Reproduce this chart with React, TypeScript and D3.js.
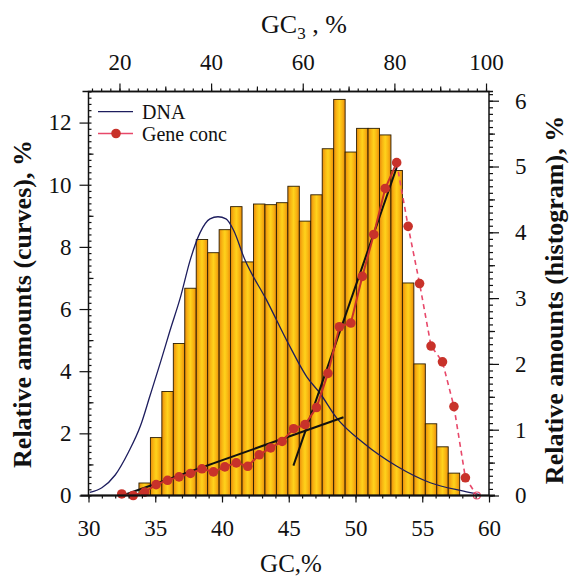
import * as d3 from 'd3';
import React, { useEffect, useRef } from 'react';

// GC3 bin centres (2.5 % bins) shared by histogram and gene concentration
const gc3Centers = [
  20.5, 23, 25.5, 28, 30.5, 33, 35.5, 38, 40.5, 43, 45.5, 48, 50.5, 53, 55.5, 58,
  60.5, 63, 65.5, 68, 70.5, 73, 75.5, 78, 80.5, 83, 85.5, 88, 90.5, 93, 95.5, 98,
];
const geneConc = [
  0.05, 0.0, 0.11, 0.35, 0.49, 0.6, 0.71, 0.86, 0.76, 0.92, 1.05, 0.94, 1.31, 1.53, 1.74, 2.15,
  2.28, 2.83, 3.93, 5.43, 5.55, 7.05, 8.4, 9.88, 10.71, 8.66, 6.82, 4.81, 4.3, 2.86, 0.57, 0.0,
];
// histogram bars start at the third bin centre (25.5)
const histCenters = gc3Centers.slice(2, 30);
const histValues = [
  0.19, 0.88, 1.58, 2.31, 3.15, 3.89, 3.69, 4.04, 4.39, 3.55, 4.43, 4.42, 4.45, 4.7,
  4.17, 4.57, 5.27, 6.02, 5.22, 5.58, 5.58, 5.48, 4.94, 3.23, 2.0, 1.09, 0.74, 0.34,
];
const peakIndex = 24;

// DNA curve (GC %, relative amount)
const dnaGC = [
  30.1, 31.0, 32.0, 33.0, 33.9, 34.6, 35.4, 36.1, 36.9, 37.6, 38.35, 39.1, 39.7, 40.3,
  40.85, 41.7, 43.35, 44.97, 46.35, 47.34, 48.6, 50.6, 53.1, 55.6, 58.1, 59.3,
];
const dnaValues = [
  0.1, 0.25, 0.66, 1.4, 2.25, 3.2, 4.3, 5.3, 6.4, 7.55, 8.45, 8.9, 8.97, 8.9,
  8.55, 7.6, 6.28, 4.89, 3.82, 3.29, 2.49, 1.69, 0.94, 0.41, 0.14, 0.03,
];

// fitted straight lines (GC %, value)
const fitLowGC = [32.55, 49.1];
const fitLowValues = [0, 2.52];
const fitHighGC = [45.35, 53.2];
const fitHighValues = [0.96, 10.7];

const gcTicks = [30, 35, 40, 45, 50, 55, 60];
const gc3Ticks = [20, 40, 60, 80, 100];
const curveTicks = [0, 2, 4, 6, 8, 10, 12];
const histTicks = [0, 1, 2, 3, 4, 5, 6];

const W = 569;
const H = 578;
const serif = '"Liberation Serif", "Times New Roman", serif';

function Chart() {
  const svgRef = useRef<SVGSVGElement>(null);

  useEffect(() => {
    const svg = d3.select(svgRef.current);
    svg.selectAll('*').remove();

    const x = d3.scaleLinear().domain([30, 60]).range([88.5, 489]);
    const x3 = d3.scaleLinear().domain([13.24, 100.65]).range([88.5, 489]);
    const yL = d3.scaleLinear().domain([0, 13]).range([495.5, 91.5]);
    const yR = d3.scaleLinear().domain([0, 6.14]).range([495.5, 91.5]);
    const [left, right] = x.range();
    const [bottom, top] = yL.range();

    const defs = svg.append('defs');
    const grad = defs
      .append('linearGradient')
      .attr('id', 'barGrad')
      .attr('x1', '0')
      .attr('x2', '1')
      .attr('y1', '0')
      .attr('y2', '0');
    [
      [0, '#e98a0c'],
      [0.25, '#f8b512'],
      [0.5, '#ffd21c'],
      [0.75, '#f8b512'],
      [1, '#e98a0c'],
    ].forEach(([o, c]) => grad.append('stop').attr('offset', o).attr('stop-color', c));

    // histogram
    svg
      .append('g')
      .selectAll('rect')
      .data(histValues)
      .join('rect')
      .attr('x', (d, i) => x3(histCenters[i] - 1.25))
      .attr('width', (d, i) => x3(histCenters[i] + 1.25) - x3(histCenters[i] - 1.25))
      .attr('y', d => yR(d))
      .attr('height', d => yR(0) - yR(d))
      .attr('fill', 'url(#barGrad)')
      .attr('stroke', '#2b1d00')
      .attr('stroke-width', 0.9);

    // DNA curve
    const dnaLine = d3
      .line<number>()
      .x((d, i) => x(dnaGC[i]))
      .y(d => yL(d))
      .curve(d3.curveMonotoneX);
    svg
      .append('path')
      .attr('d', dnaLine(dnaValues))
      .attr('fill', 'none')
      .attr('stroke', '#1d1d5e')
      .attr('stroke-width', 1.3);

    // fitted lines
    [
      [fitLowGC, fitLowValues],
      [fitHighGC, fitHighValues],
    ].forEach(([gs, vs]) => {
      svg
        .append('line')
        .attr('x1', x(gs[0]))
        .attr('y1', yL(vs[0]))
        .attr('x2', x(gs[1]))
        .attr('y2', yL(vs[1]))
        .attr('stroke', '#111')
        .attr('stroke-width', 2);
    });

    // gene concentration
    const geneLine = d3
      .line<number>()
      .x(i => x3(gc3Centers[i]))
      .y(i => yL(geneConc[i]));
    const idx = geneConc.map((d, i) => i);
    svg
      .append('path')
      .attr('d', geneLine(idx.slice(0, peakIndex + 1)))
      .attr('fill', 'none')
      .attr('stroke', '#c8322a')
      .attr('stroke-width', 2);
    svg
      .append('path')
      .attr('d', geneLine(idx.slice(peakIndex)))
      .attr('fill', 'none')
      .attr('stroke', '#e8486a')
      .attr('stroke-width', 1.6)
      .attr('stroke-dasharray', '5,4');
    svg
      .append('g')
      .selectAll('circle')
      .data(geneConc)
      .join('circle')
      .attr('cx', (d, i) => x3(gc3Centers[i]))
      .attr('cy', d => yL(d))
      .attr('r', (d, i) => (i === geneConc.length - 1 ? 3.5 : 4.8))
      .attr('fill', (d, i) => (i === geneConc.length - 1 ? 'none' : '#c8322a'))
      .attr('stroke', (d, i) => (i === geneConc.length - 1 ? '#e8486a' : 'none'))
      .attr('stroke-width', 1.2);

    // frame
    svg
      .append('rect')
      .attr('x', left)
      .attr('y', top)
      .attr('width', right - left)
      .attr('height', bottom - top)
      .attr('fill', 'none')
      .attr('stroke', '#111')
      .attr('stroke-width', 1.5);

    const styleAxis = g => {
      g.select('.domain').remove();
      g.selectAll('line').attr('stroke', '#111').attr('stroke-width', 1.2);
      g.selectAll('text').attr('font-family', serif).attr('font-size', 23).attr('fill', '#111');
    };

    // bottom axis
    svg
      .append('g')
      .attr('transform', `translate(0,${bottom})`)
      .call(d3.axisBottom(x).tickValues(d3.range(30, 60.5, 1)).tickSize(3).tickFormat(() => ''))
      .call(styleAxis);
    svg
      .append('g')
      .attr('transform', `translate(0,${bottom})`)
      .call(d3.axisBottom(x).tickValues(gcTicks).tickSize(7).tickPadding(17).tickFormat(d3.format('d')))
      .call(styleAxis);
    svg
      .append('line')
      .attr('x1', left - 8)
      .attr('x2', right + 6)
      .attr('y1', bottom)
      .attr('y2', bottom)
      .attr('stroke', '#111')
      .attr('stroke-width', 1.8);

    // top axis
    svg
      .append('g')
      .attr('transform', `translate(0,${top})`)
      .call(d3.axisTop(x3).tickValues(d3.range(14, 101, 2)).tickSize(3).tickFormat(() => ''))
      .call(styleAxis);
    svg
      .append('g')
      .attr('transform', `translate(0,${top})`)
      .call(d3.axisTop(x3).tickValues([30, 50, 70, 90]).tickSize(5).tickFormat(() => ''))
      .call(styleAxis);
    svg
      .append('g')
      .attr('transform', `translate(0,${top})`)
      .call(d3.axisTop(x3).tickValues(gc3Ticks).tickSize(8).tickPadding(14).tickFormat(d3.format('d')))
      .call(styleAxis);
    svg
      .append('line')
      .attr('x1', left - 6)
      .attr('x2', right + 4)
      .attr('y1', top)
      .attr('y2', top)
      .attr('stroke', '#111')
      .attr('stroke-width', 1.5);

    // left axis
    svg
      .append('g')
      .attr('transform', `translate(${left},0)`)
      .call(d3.axisRight(yL).tickValues(d3.range(0, 13.01, 0.2)).tickSize(3).tickFormat(() => ''))
      .call(styleAxis);
    svg
      .append('g')
      .attr('transform', `translate(${left},0)`)
      .call(d3.axisRight(yL).tickValues(d3.range(1, 13, 2)).tickSize(5).tickFormat(() => ''))
      .call(styleAxis);
    svg
      .append('g')
      .attr('transform', `translate(${left},0)`)
      .call(d3.axisLeft(yL).tickValues(curveTicks).tickSize(9).tickPadding(8).tickFormat(d3.format('d')))
      .call(styleAxis);

    // right axis
    svg
      .append('g')
      .attr('transform', `translate(${right},0)`)
      .call(d3.axisRight(yR).tickValues(d3.range(0, 6.11, 0.1)).tickSize(4).tickFormat(() => ''))
      .call(styleAxis);
    svg
      .append('g')
      .attr('transform', `translate(${right},0)`)
      .call(d3.axisRight(yR).tickValues(d3.range(0.5, 6, 1)).tickSize(6).tickFormat(() => ''))
      .call(styleAxis);
    svg
      .append('g')
      .attr('transform', `translate(${right},0)`)
      .call(d3.axisRight(yR).tickValues(histTicks).tickSize(10).tickPadding(16).tickFormat(d3.format('d')))
      .call(styleAxis);

    // legend
    const legend = svg.append('g').attr('font-family', serif).attr('font-size', 20).attr('fill', '#111');
    legend
      .append('line')
      .attr('x1', 98)
      .attr('x2', 133)
      .attr('y1', 111.7)
      .attr('y2', 111.7)
      .attr('stroke', '#1d1d5e')
      .attr('stroke-width', 1.3);
    legend.append('text').attr('x', 142).attr('y', 118.5).text('DNA');
    legend
      .append('line')
      .attr('x1', 98)
      .attr('x2', 133)
      .attr('y1', 133.5)
      .attr('y2', 133.5)
      .attr('stroke', '#e8486a')
      .attr('stroke-width', 1.3);
    legend.append('circle').attr('cx', 116).attr('cy', 133.5).attr('r', 4.8).attr('fill', '#c8322a');
    legend.append('text').attr('x', 142).attr('y', 141).text('Gene conc');

    // titles
    const t3 = svg
      .append('text')
      .attr('x', 304)
      .attr('y', 33)
      .attr('text-anchor', 'middle')
      .attr('font-family', serif)
      .attr('font-size', 26)
      .attr('fill', '#111');
    t3.append('tspan').text('GC');
    t3.append('tspan').attr('font-size', 17).attr('dy', 6).text('3');
    t3.append('tspan').attr('dy', -6).text(' , %');

    svg
      .append('text')
      .attr('x', 291)
      .attr('y', 572)
      .attr('text-anchor', 'middle')
      .attr('font-family', serif)
      .attr('font-size', 25)
      .attr('fill', '#111')
      .text('GC,%');

    svg
      .append('text')
      .attr('transform', 'translate(31,304) rotate(-90)')
      .attr('text-anchor', 'middle')
      .attr('font-family', serif)
      .attr('font-weight', 'bold')
      .attr('font-size', 26)
      .attr('fill', '#111')
      .text('Relative amounts (curves), %');

    svg
      .append('text')
      .attr('transform', 'translate(563,300) rotate(-90)')
      .attr('text-anchor', 'middle')
      .attr('font-family', serif)
      .attr('font-weight', 'bold')
      .attr('font-size', 26)
      .attr('fill', '#111')
      .text('Relative amounts (histogram), %');
  }, []);

  return (
    <svg
      ref={svgRef}
      width={W}
      height={H}
      style={{ position: 'absolute', left: 0, top: 0, background: '#fff' }}
    />
  );
}

export default function App() {
  return <Chart />;
}
